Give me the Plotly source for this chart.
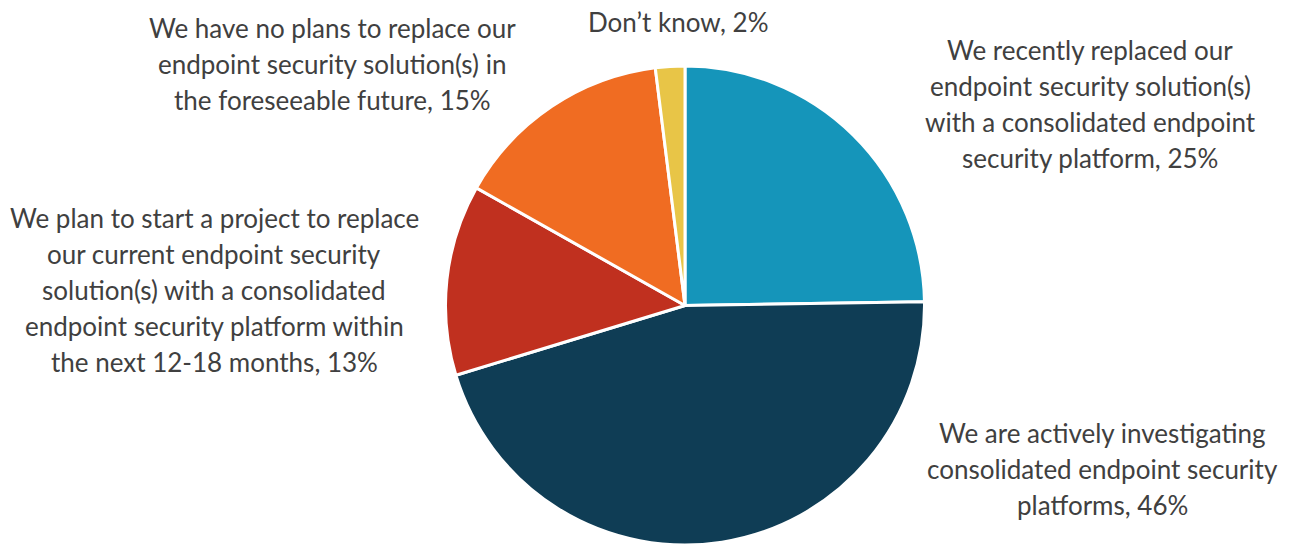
import plotly.graph_objects as go

# Survey responses on endpoint security consolidation plans
categories = [
    "We recently replaced our endpoint security solution(s) with a consolidated endpoint security platform",
    "We are actively investigating consolidated endpoint security platforms",
    "We plan to start a project to replace our current endpoint security solution(s) with a consolidated endpoint security platform within the next 12-18 months",
    "We have no plans to replace our endpoint security solution(s) in the foreseeable future",
    "Don\u2019t know",
]
shares = [25, 46, 13, 15, 2]
colors = ["#1595BA", "#0F3D55", "#C0301F", "#F06C22", "#E8C547"]

# Wrapped label lines for each slice
label_lines = [
    ["We recently replaced our", "endpoint security solution(s)",
     "with a consolidated endpoint", "security platform, 25%"],
    ["We are actively investigating", "consolidated endpoint security",
     "platforms, 46%"],
    ["We plan to start a project to replace", "our current endpoint security",
     "solution(s) with a consolidated", "endpoint security platform within",
     "the next 12-18 months, 13%"],
    ["We have no plans to replace our", "endpoint security solution(s) in",
     "the foreseeable future, 15%"],
    ["Don\u2019t know, 2%"],
]
# Label block anchors (center x, first-line y) in pixels
label_x = [1090, 1102, 214, 332, 678]
label_y0 = [50, 433, 218, 28, 22]
line_step = 36

W, H = 1293, 545
TOP = 66
cx = 685

fig = go.Figure(go.Pie(
    labels=categories,
    values=shares,
    sort=False,
    direction="clockwise",
    rotation=0,
    marker=dict(colors=colors, line=dict(color="white", width=3)),
    textinfo="none",
    hoverinfo="label+percent",
    showlegend=False,
    domain=dict(x=[cx / W - 0.2, cx / W + 0.2], y=[0, 1]),
))

annotations = []
for lines, x, y0 in zip(label_lines, label_x, label_y0):
    for i, line in enumerate(lines):
        py = y0 + i * line_step
        annotations.append(dict(
            text=line,
            x=x / W, y=1 - (py - TOP) / (H - TOP),
            xref="paper", yref="paper",
            xanchor="center", yanchor="middle",
            showarrow=False,
            font=dict(family="Lato", size=26, color="#404040"),
        ))

fig.update_layout(
    width=W, height=H,
    margin=dict(l=0, r=0, t=TOP, b=0),
    paper_bgcolor="white",
    plot_bgcolor="white",
    annotations=annotations,
)

fig.write_html("out.html")
